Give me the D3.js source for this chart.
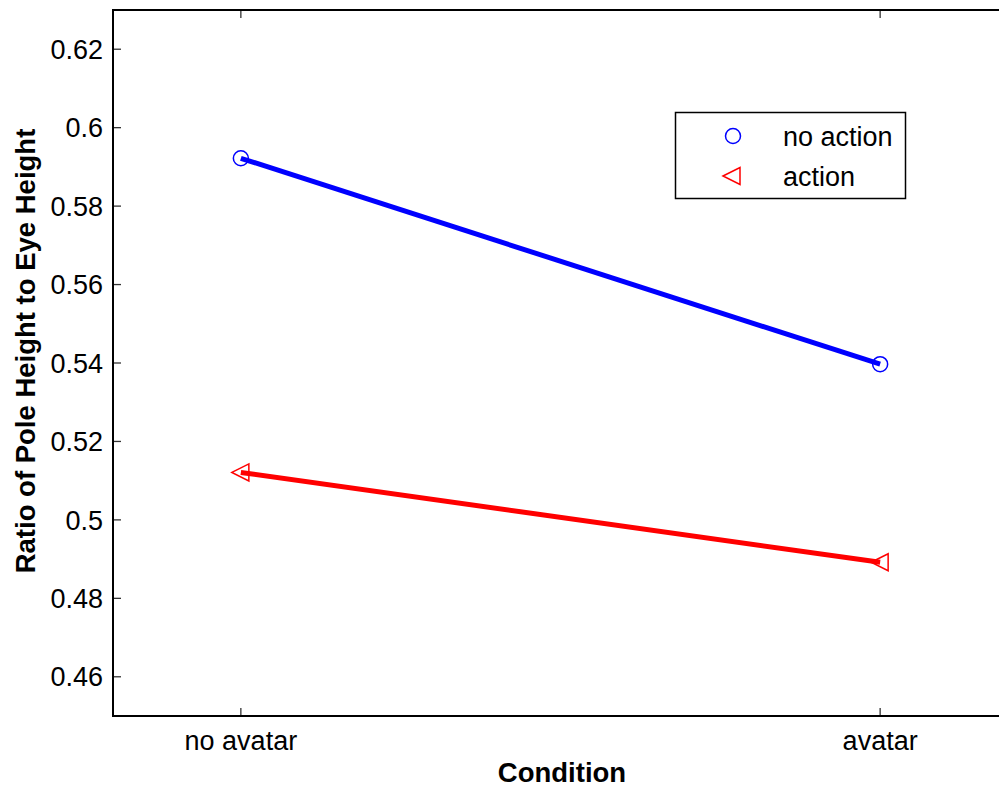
<!DOCTYPE html>
<html>
<head>
<meta charset="utf-8">
<script src="https://cdn.jsdelivr.net/npm/d3@7"></script>
<style>
  body { margin: 0; background: #fff; }
  svg { font-family: "Liberation Sans", Arial, sans-serif; }
</style>
</head>
<body>
<svg id="chart" width="999" height="789"></svg>
<script>
// data
var conditions = ["no avatar", "avatar"];
var noAction = [0.5922, 0.5397];
var action = [0.5121, 0.4892];
var yTicks = [0.46, 0.48, 0.5, 0.52, 0.54, 0.56, 0.58, 0.6, 0.62];

var margin = {top: 10, left: 113},
    width = 1008 - 113,
    height = 716 - 10;

var svg = d3.select("#chart")
  .append("g")
    .attr("transform", "translate(" + margin.left + "," + margin.top + ")");

// x goes 0.8 .. 2.2 like matlab does
var x = d3.scaleLinear().domain([0.8, 2.2]).range([0, width]);
var y = d3.scaleLinear().domain([0.45, 0.63]).range([height, 0]);

var tickLen = 8;
var fs = 27;

// y ticks left and right
yTicks.forEach(function(t) {
  svg.append("line")
    .attr("x1", 0).attr("x2", tickLen)
    .attr("y1", y(t)).attr("y2", y(t))
    .attr("stroke", "#333").attr("stroke-width", 1.3);
  svg.append("line")
    .attr("x1", width - tickLen).attr("x2", width)
    .attr("y1", y(t)).attr("y2", y(t))
    .attr("stroke", "#333").attr("stroke-width", 1.3);
  svg.append("text")
    .attr("x", -10)
    .attr("y", y(t))
    .attr("dy", "0.36em")
    .attr("text-anchor", "end")
    .attr("font-size", fs)
    .text(d3.format("~g")(t));
});

// x ticks bottom and top
conditions.forEach(function(c, i) {
  svg.append("line")
    .attr("x1", x(i + 1)).attr("x2", x(i + 1))
    .attr("y1", height).attr("y2", height - tickLen)
    .attr("stroke", "#333").attr("stroke-width", 1.3);
  svg.append("line")
    .attr("x1", x(i + 1)).attr("x2", x(i + 1))
    .attr("y1", 0).attr("y2", tickLen)
    .attr("stroke", "#333").attr("stroke-width", 1.3);
  svg.append("text")
    .attr("x", x(i + 1))
    .attr("y", 750 - margin.top)
    .attr("text-anchor", "middle")
    .attr("font-size", fs)
    .text(c);
});

// axes box (left, bottom, top)
svg.append("path")
  .attr("d", "M" + width + ",0H0V" + height + "H" + width)
  .attr("fill", "none")
  .attr("stroke", "#000")
  .attr("stroke-width", 2);

// lines
var line = d3.line()
  .x(function(d, i) { return x(i + 1); })
  .y(function(d) { return y(d); });

svg.append("path")
  .datum(noAction)
  .attr("d", line)
  .attr("fill", "none")
  .attr("stroke", "#0000ff")
  .attr("stroke-width", 5);

svg.append("path")
  .datum(action)
  .attr("d", line)
  .attr("fill", "none")
  .attr("stroke", "#ff0000")
  .attr("stroke-width", 5);

// markers
var tri = function(cx, cy) {
  return "M" + (cx - 9) + "," + cy + "L" + (cx + 8) + "," + (cy - 8.5) + "L" + (cx + 8) + "," + (cy + 8.5) + "Z";
};

noAction.forEach(function(v, i) {
  svg.append("circle")
    .attr("cx", x(i + 1)).attr("cy", y(v)).attr("r", 7.5)
    .attr("fill", "none").attr("stroke", "#0000ff").attr("stroke-width", 1.5);
});
action.forEach(function(v, i) {
  svg.append("path")
    .attr("d", tri(x(i + 1), y(v)))
    .attr("fill", "none").attr("stroke", "#ff0000").attr("stroke-width", 1.5);
});

// axis labels
svg.append("text")
  .attr("x", 562 - margin.left)
  .attr("y", 782 - margin.top)
  .attr("text-anchor", "middle")
  .attr("font-size", 27.5)
  .attr("font-weight", "bold")
  .text("Condition");

svg.append("text")
  .attr("transform", "translate(" + (35 - margin.left) + "," + (351 - margin.top) + ") rotate(-90)")
  .attr("text-anchor", "middle")
  .attr("font-size", 27.5)
  .attr("font-weight", "bold")
  .text("Ratio of Pole Height to Eye Height");

// legend
var leg = d3.select("#chart").append("g");
leg.append("rect")
  .attr("x", 675.5).attr("y", 112.5)
  .attr("width", 230).attr("height", 86)
  .attr("fill", "#fff").attr("stroke", "#000").attr("stroke-width", 1.5);
leg.append("circle")
  .attr("cx", 733).attr("cy", 136).attr("r", 7.5)
  .attr("fill", "none").attr("stroke", "#0000ff").attr("stroke-width", 1.5);
leg.append("path")
  .attr("d", tri(732, 176))
  .attr("fill", "none").attr("stroke", "#ff0000").attr("stroke-width", 1.5);
leg.append("text")
  .attr("x", 783).attr("y", 136).attr("dy", "0.36em")
  .attr("font-size", fs).text("no action");
leg.append("text")
  .attr("x", 783).attr("y", 176).attr("dy", "0.36em")
  .attr("font-size", fs).text("action");
</script>
</body>
</html>
